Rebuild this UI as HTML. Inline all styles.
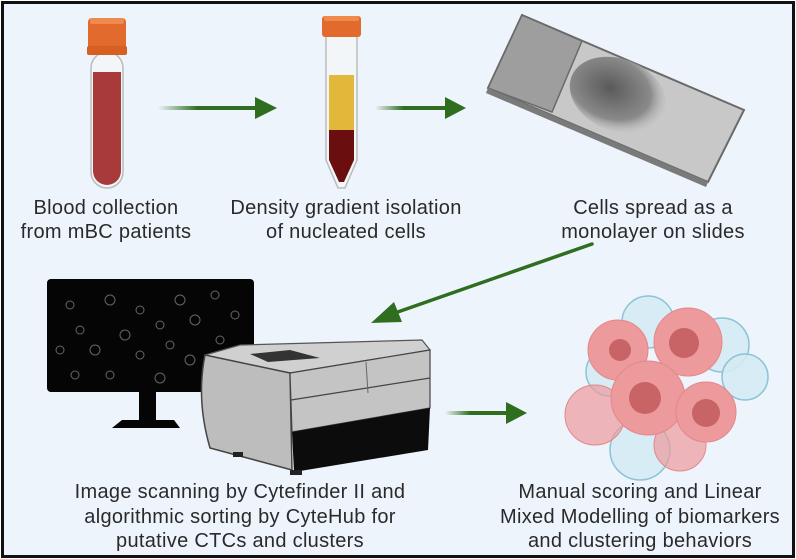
<!DOCTYPE html>
<html><head><meta charset="utf-8"><style>
html,body{margin:0;padding:0;background:#fff}
svg{display:block}
text{font-family:"Liberation Sans",sans-serif;font-size:20px;letter-spacing:0.3px;fill:#2a2a2a;text-anchor:middle}
</style></head><body>
<svg width="796" height="559" viewBox="0 0 796 559" xmlns="http://www.w3.org/2000/svg">
<defs>
<linearGradient id="ga" x1="0" x2="1" y1="0" y2="0"><stop offset="0" stop-color="#2f6e1f" stop-opacity="0"/><stop offset="0.4" stop-color="#2f6e1f"/><stop offset="1" stop-color="#2f6e1f"/></linearGradient>
<radialGradient id="smear" cx="0.4" cy="0.45" r="0.6"><stop offset="0" stop-color="#5a5a5a"/><stop offset="0.7" stop-color="#8a8a8a"/><stop offset="1" stop-color="#b8b8b8" stop-opacity="0"/></radialGradient>
</defs>
<rect x="0" y="0" width="796" height="559" fill="#fff"/>
<rect x="2.5" y="2.5" width="791" height="554" fill="#eef4fc" stroke="#111" stroke-width="3"/>

<rect x="91" y="52" width="32" height="136" rx="16" fill="#f3f6f8" stroke="#bbb" stroke-width="1.5"/>
<path d="M93 72 H121 V171 A14 14 0 0 1 93 171 Z" fill="#a83a3c"/>
<rect x="88" y="18" width="38" height="35" rx="4" fill="#e26a2c"/>
<rect x="87" y="46" width="40" height="9" rx="2" fill="#d85f22"/>
<rect x="90" y="18" width="34" height="6" rx="2" fill="#f08a4c"/>

<rect x="158" y="106" width="100" height="4" fill="url(#ga)"/>
<polygon points="255,97 277,108 255,119" fill="#2f6e1f"/>

<path d="M326 36 H357 V160 L345 188 H338 L326 160 Z" fill="#f3f6f8" stroke="#bbb" stroke-width="1.5"/>
<rect x="329" y="75" width="25" height="55" fill="#e2b83a"/>
<path d="M329 130 H354 V160 L344 182 H339 L329 160 Z" fill="#6a0e10"/>
<rect x="322" y="16" width="39" height="21" rx="3" fill="#e26a2c"/>
<rect x="324" y="16" width="35" height="5" rx="2" fill="#f08a4c"/>

<rect x="375" y="106" width="72" height="4" fill="url(#ga)"/>
<polygon points="445,97 466,108 445,119" fill="#2f6e1f"/>

<polygon points="522,15 744,110 708,182 488,88" fill="#c8c8c8" stroke="#6a6a6a" stroke-width="2"/>
<polygon points="522,15 582,41 552,112 488,88" fill="#9e9e9e" stroke="#6a6a6a" stroke-width="1.5"/>
<ellipse cx="618" cy="95" rx="50" ry="36" transform="rotate(22 618 95)" fill="url(#smear)"/>
<polygon points="488,88 708,182 706,187 486,93" fill="#7a7a7a"/>

<text x="106" y="214">Blood collection</text>
<text x="106" y="238">from mBC patients</text>
<text x="346" y="214">Density gradient isolation</text>
<text x="346" y="238">of nucleated cells</text>
<text x="653" y="214">Cells spread as a</text>
<text x="653" y="238">monolayer on slides</text>

<line x1="592" y1="244" x2="392" y2="314" stroke="#2f6e1f" stroke-width="3.5" stroke-linecap="round"/>
<polygon points="371,323 394,302 402,322" fill="#2f6e1f"/>

<rect x="47" y="279" width="207" height="113" rx="4" fill="#050505"/>
<g fill="none" stroke="#666" stroke-width="1">
<circle cx="70" cy="305" r="4"/><circle cx="110" cy="300" r="5"/><circle cx="140" cy="310" r="4"/><circle cx="180" cy="300" r="5"/><circle cx="215" cy="295" r="4"/><circle cx="235" cy="315" r="4"/>
<circle cx="80" cy="330" r="4"/><circle cx="125" cy="335" r="5"/><circle cx="160" cy="325" r="4"/><circle cx="195" cy="320" r="5"/><circle cx="220" cy="340" r="4"/>
<circle cx="60" cy="350" r="4"/><circle cx="95" cy="350" r="5"/><circle cx="140" cy="355" r="4"/><circle cx="170" cy="345" r="4"/><circle cx="190" cy="360" r="5"/>
<circle cx="75" cy="375" r="4"/><circle cx="110" cy="375" r="4"/><circle cx="160" cy="378" r="5"/><circle cx="230" cy="372" r="4"/>
</g>
<rect x="139" y="392" width="17" height="28" fill="#050505"/>
<polygon points="122,420 174,420 180,428 112,428" fill="#050505"/>

<polygon points="205,355 240,345 422,340 430,350 290,373" fill="#d0d0d0" stroke="#555" stroke-width="1.2"/>
<polygon points="250,354 290,350 320,358 268,362" fill="#333"/>
<path d="M205,355 L290,373 L292,470 L210,448 Q196,400 205,355 Z" fill="#bdbdbd" stroke="#444" stroke-width="1.5"/>
<polygon points="290,373 430,350 430,408 292,432" fill="#c4c4c4" stroke="#444" stroke-width="1.2"/>
<line x1="291" y1="400" x2="430" y2="378" stroke="#444" stroke-width="1.2"/>
<line x1="366" y1="362" x2="368" y2="393" stroke="#666" stroke-width="1"/>
<polygon points="292,432 430,408 428,450 294,472" fill="#0c0c0c"/>
<rect x="233" y="452" width="10" height="5" fill="#222"/>
<rect x="290" y="470" width="12" height="5" fill="#222"/>

<rect x="445" y="411" width="64" height="4" fill="url(#ga)"/>
<polygon points="506,402 527,413 506,424" fill="#2f6e1f"/>

<g stroke="#8cc3d6" stroke-width="1.5" fill="#d4ebf3" fill-opacity="0.9">
<circle cx="648" cy="322" r="26"/>
<circle cx="722" cy="345" r="27"/>
<circle cx="745" cy="377" r="23"/>
<circle cx="610" cy="372" r="24"/>
<circle cx="640" cy="450" r="30"/>
</g>
<g fill="#ec9a9c" stroke="#e48789" stroke-width="1">
<circle cx="595" cy="415" r="30" fill-opacity="0.7"/>
<circle cx="680" cy="445" r="26" fill-opacity="0.7"/>
<circle cx="618" cy="350" r="30"/>
<circle cx="688" cy="342" r="34"/>
<circle cx="648" cy="398" r="37"/>
<circle cx="706" cy="412" r="30"/>
</g>
<g fill="#c86466">
<circle cx="620" cy="350" r="11"/>
<circle cx="684" cy="343" r="15"/>
<circle cx="645" cy="398" r="16"/>
<circle cx="706" cy="413" r="14"/>
</g>

<text x="240" y="498">Image scanning by Cytefinder II and</text>
<text x="240" y="523">algorithmic sorting by CyteHub for</text>
<text x="240" y="547">putative CTCs and clusters</text>
<text x="640" y="498">Manual scoring and Linear</text>
<text x="640" y="523">Mixed Modelling of biomarkers</text>
<text x="640" y="547">and clustering behaviors</text>
</svg>
</body></html>
